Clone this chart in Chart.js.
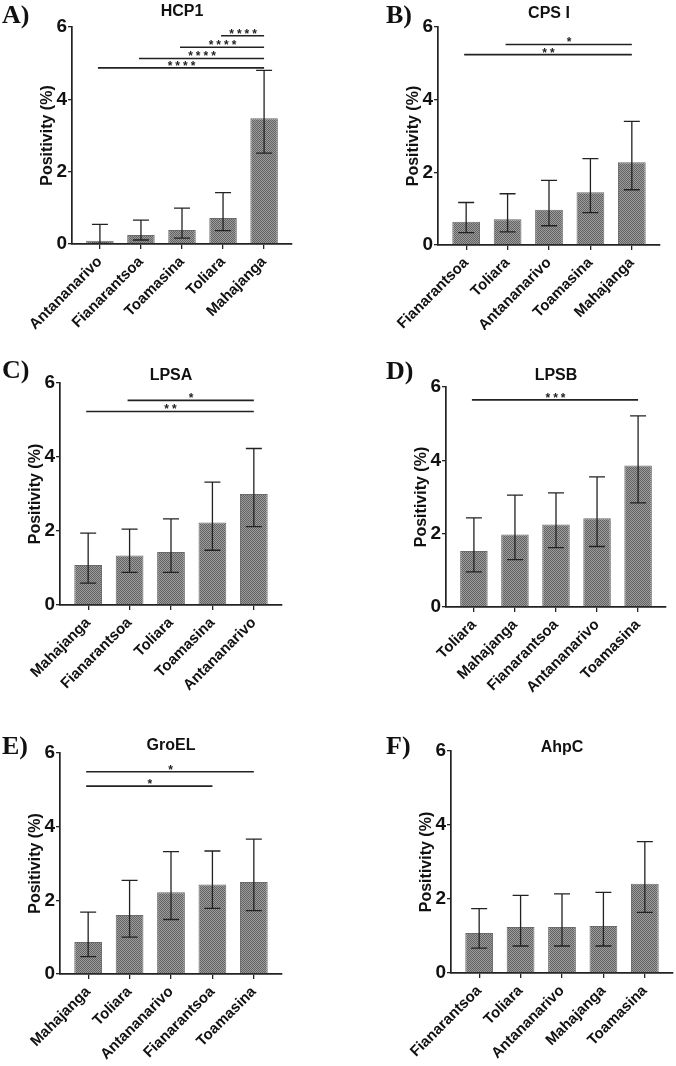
<!DOCTYPE html>
<html>
<head>
<meta charset="utf-8">
<script src="https://cdn.jsdelivr.net/npm/chart.js@4.4.1/dist/chart.umd.min.js"></script>
<style>
  body { margin: 0; background: #fff; }
  #wrap { position: relative; width: 676px; height: 1066px; overflow: hidden; }
  canvas { position: absolute; }
</style>
</head>
<body>
<div id="wrap"></div>
<script>
// ---- data ----
const hcp1Cities = ['Antananarivo', 'Fianarantsoa', 'Toamasina', 'Toliara', 'Mahajanga'];
const hcp1Means = [0.09, 0.25, 0.39, 0.72, 3.48];
const hcp1Lower = [0.02, 0.11, 0.16, 0.37, 2.51];
const hcp1Upper = [0.54, 0.66, 0.99, 1.42, 4.80];
const hcp1Sig = [[3, 4, 5.76, '****'], [2, 4, 5.44, '****'], [1, 4, 5.13, '****'], [0, 4, 4.87, '****']];

const cpsCities = ['Fianarantsoa', 'Toliara', 'Antananarivo', 'Toamasina', 'Mahajanga'];
const cpsMeans = [0.64, 0.71, 0.97, 1.45, 2.28];
const cpsLower = [0.34, 0.36, 0.53, 0.89, 1.52];
const cpsUpper = [1.17, 1.41, 1.78, 2.38, 3.40];
const cpsSig = [[1, 4, 5.52, '*'], [0, 4, 5.24, '**']];

const lpsaCities = ['Mahajanga', 'Fianarantsoa', 'Toliara', 'Toamasina', 'Antananarivo'];
const lpsaMeans = [1.08, 1.34, 1.43, 2.23, 3.00];
const lpsaLower = [0.59, 0.88, 0.88, 1.48, 2.12];
const lpsaUpper = [1.94, 2.05, 2.33, 3.32, 4.23];
const lpsaSig = [[1, 4, 5.53, '*'], [0, 4, 5.23, '**']];

const lpsbCities = ['Toliara', 'Mahajanga', 'Fianarantsoa', 'Antananarivo', 'Toamasina'];
const lpsbMeans = [1.53, 1.98, 2.25, 2.42, 3.86];
const lpsbLower = [0.96, 1.29, 1.62, 1.65, 2.84];
const lpsbUpper = [2.43, 3.05, 3.11, 3.55, 5.21];
const lpsbSig = [[0, 4, 5.65, '***']];

const groelCities = ['Mahajanga', 'Toliara', 'Antananarivo', 'Fianarantsoa', 'Toamasina'];
const groelMeans = [0.87, 1.60, 2.22, 2.43, 2.50];
const groelLower = [0.47, 1.00, 1.48, 1.78, 1.72];
const groelUpper = [1.68, 2.54, 3.32, 3.34, 3.66];
const groelSig = [[0, 4, 5.49, '*'], [0, 3, 5.10, '*']];

const ahpcCities = ['Fianarantsoa', 'Toliara', 'Antananarivo', 'Mahajanga', 'Toamasina'];
const ahpcMeans = [1.08, 1.24, 1.24, 1.27, 2.41];
const ahpcLower = [0.67, 0.73, 0.73, 0.73, 1.64];
const ahpcUpper = [1.74, 2.10, 2.14, 2.18, 3.55];
const ahpcSig = [];

const yTicks = [0, 2, 4, 6];

const panels = [
  { letter: 'A)', title: 'HCP1', cities: hcp1Cities, means: hcp1Means, lower: hcp1Lower, upper: hcp1Upper, sig: hcp1Sig,
    box: [0, 0, 338, 330], area: [72, 27, 292, 244], letterAt: [2, 23], titleY: 16 },
  { letter: 'B)', title: 'CPS I', cities: cpsCities, means: cpsMeans, lower: cpsLower, upper: cpsUpper, sig: cpsSig,
    box: [338, 0, 338, 330], area: [438, 27, 660, 245], letterAt: [386, 23], titleY: 18 },
  { letter: 'C)', title: 'LPSA', cities: lpsaCities, means: lpsaMeans, lower: lpsaLower, upper: lpsaUpper, sig: lpsaSig,
    box: [0, 330, 338, 370], area: [60, 383, 282, 605], letterAt: [2, 378], titleY: 380 },
  { letter: 'D)', title: 'LPSB', cities: lpsbCities, means: lpsbMeans, lower: lpsbLower, upper: lpsbUpper, sig: lpsbSig,
    box: [338, 330, 338, 370], area: [446, 387, 666, 607], letterAt: [386, 379], titleY: 380 },
  { letter: 'E)', title: 'GroEL', cities: groelCities, means: groelMeans, lower: groelLower, upper: groelUpper, sig: groelSig,
    box: [0, 700, 338, 366], area: [60, 753, 282, 974], letterAt: [2, 754], titleY: 750 },
  { letter: 'F)', title: 'AhpC', cities: ahpcCities, means: ahpcMeans, lower: ahpcLower, upper: ahpcUpper, sig: ahpcSig,
    box: [338, 700, 338, 366], area: [451, 751, 673, 973], letterAt: [386, 754], titleY: 752 }
];

const SANS = "'Liberation Sans', Arial, sans-serif";
const INK = '#222';
const Y_AXIS_W = 34;

// checkered grey fill like the original print
function hatchPattern(ctx) {
  const c = document.createElement('canvas');
  c.width = 2; c.height = 2;
  const g = c.getContext('2d');
  g.fillStyle = '#9c9c9c'; g.fillRect(0, 0, 2, 2);
  g.fillStyle = '#636363'; g.fillRect(0, 0, 1, 1); g.fillRect(1, 1, 1, 1);
  return ctx.createPattern(c, 'repeat');
}

function overlayFor(p, offX, offY) {
  return {
    id: 'overlay',
    afterDatasetsDraw(chart) {
      const { ctx, scales: { x, y } } = chart;
      ctx.save();
      ctx.strokeStyle = INK;
      ctx.lineWidth = 1.3;
      // error bars
      p.means.forEach((m, i) => {
        const cx = x.getPixelForValue(i);
        const yTop = y.getPixelForValue(p.upper[i]);
        const yBot = y.getPixelForValue(p.lower[i]);
        ctx.beginPath();
        ctx.moveTo(cx, yTop); ctx.lineTo(cx, yBot);
        ctx.moveTo(cx - 8, yTop); ctx.lineTo(cx + 8, yTop);
        ctx.moveTo(cx - 8, yBot); ctx.lineTo(cx + 8, yBot);
        ctx.stroke();
      });
      // significance bars
      ctx.fillStyle = INK;
      ctx.font = 'bold 12px ' + SANS;
      ctx.textAlign = 'center';
      ctx.textBaseline = 'alphabetic';
      ctx.letterSpacing = '3px';
      p.sig.forEach(([a, b, v, label]) => {
        const x1 = x.getPixelForValue(a) - 2;
        const x2 = x.getPixelForValue(b);
        const yy = y.getPixelForValue(v);
        ctx.lineWidth = 1.6;
        ctx.beginPath();
        ctx.moveTo(x1, yy); ctx.lineTo(x2, yy);
        ctx.stroke();
        ctx.fillText(label, (x1 + x2) / 2 + 2, yy + 2);
      });
      ctx.restore();
    },
    afterDraw(chart) {
      const { ctx, chartArea } = chart;
      ctx.save();
      ctx.fillStyle = '#111';
      ctx.font = "bold 26px 'Liberation Serif', 'Times New Roman', serif";
      ctx.textAlign = 'left';
      ctx.textBaseline = 'alphabetic';
      ctx.fillText(p.letter, p.letterAt[0] - offX, p.letterAt[1] - offY);
      ctx.font = 'bold 16px ' + SANS;
      ctx.textAlign = 'center';
      ctx.fillText(p.title, (chartArea.left + chartArea.right) / 2, p.titleY - offY);
      ctx.restore();
    }
  };
}

const wrap = document.getElementById('wrap');

panels.forEach(p => {
  const [bx, by, bw, bh] = p.box;
  const [al, at, ar, ab] = p.area;
  const canvas = document.createElement('canvas');
  canvas.width = bw; canvas.height = bh;
  canvas.style.left = bx + 'px'; canvas.style.top = by + 'px';
  canvas.style.width = bw + 'px'; canvas.style.height = bh + 'px';
  wrap.appendChild(canvas);
  const ctx = canvas.getContext('2d');

  const padLeft = (al - bx) - Y_AXIS_W;
  const xAxisH = (by + bh) - ab;

  new Chart(ctx, {
    type: 'bar',
    data: {
      datasets: [{
        data: p.means.map((v, i) => ({ x: i, y: v })),
        backgroundColor: hatchPattern(ctx),
        borderColor: '#6a6a6a',
        borderWidth: 1,
        barPercentage: 0.67,
        categoryPercentage: 1
      }]
    },
    options: {
      responsive: false,
      animation: false,
      devicePixelRatio: 1,
      layout: { padding: { left: padLeft, top: at - by, right: (bx + bw) - ar, bottom: 0 } },
      plugins: { legend: { display: false }, tooltip: { enabled: false }, title: { display: false } },
      scales: {
        x: {
          type: 'linear',
          min: -0.68,
          max: p.cities.length - 1 + 0.68,
          offset: false,
          afterBuildTicks: s => { s.ticks = p.cities.map((c, i) => ({ value: i })); },
          afterFit: s => { s.height = xAxisH; },
          ticks: {
            autoSkip: false,
            minRotation: 45,
            maxRotation: 45,
            padding: 4,
            color: '#111',
            font: { family: SANS, size: 15, weight: 'bold' },
            callback: v => p.cities[v]
          },
          grid: { drawOnChartArea: false, offset: false, tickLength: 5, color: INK, lineWidth: 1.3 },
          border: { color: INK, width: 1.7 }
        },
        y: {
          min: 0,
          max: 6,
          afterBuildTicks: s => { s.ticks = yTicks.map(v => ({ value: v })); },
          afterFit: s => { s.width = Y_AXIS_W; },
          ticks: {
            padding: 1,
            color: '#111',
            font: { family: SANS, size: 19, weight: 'bold' }
          },
          title: {
            display: true,
            text: 'Positivity (%)',
            color: '#111',
            padding: 0,
            font: { family: SANS, size: 16, weight: 'bold' }
          },
          grid: { drawOnChartArea: false, tickLength: 4, color: INK, lineWidth: 1.3 },
          border: { color: INK, width: 1.7 }
        }
      }
    },
    plugins: [overlayFor(p, bx, by)]
  });
});
</script>
</body>
</html>
